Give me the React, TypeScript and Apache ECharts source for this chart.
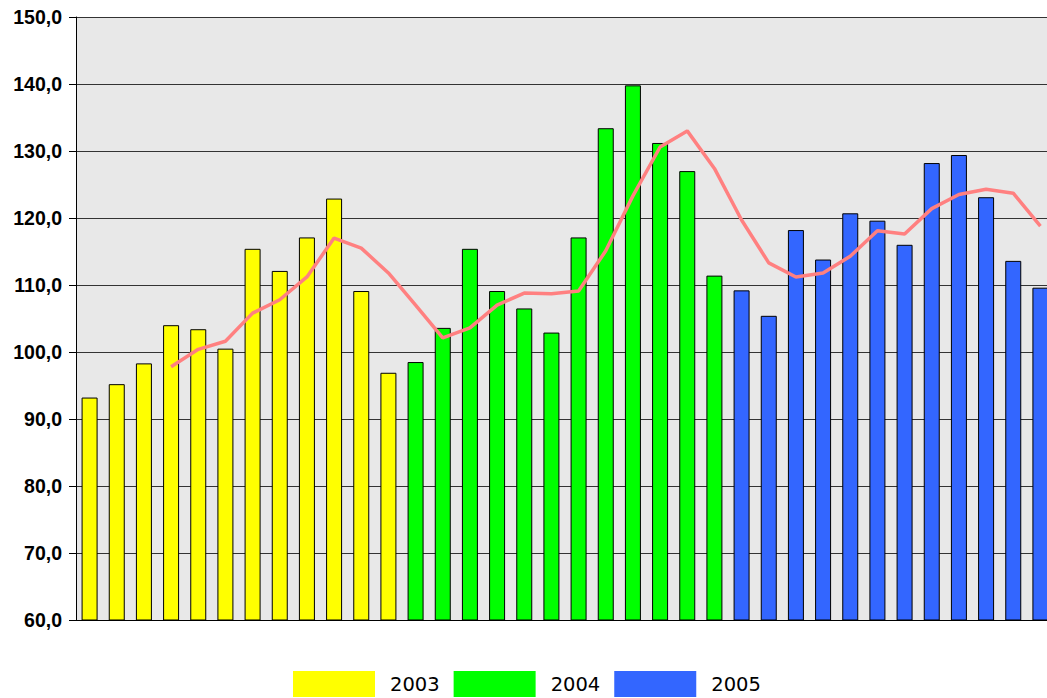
import React, { useEffect, useRef } from "react";
import * as echarts from "echarts";

const months: string[] = Array.from({ length: 36 }, (_, i) => String(i + 1));
const years = ["2003", "2004", "2005"];
const yearColors = ["#FFFF00", "#00FF00", "#3366FF"];

const values2003 = [93.2, 95.2, 98.3, 104.0, 103.4, 100.5, 115.4, 112.1, 117.1, 122.9, 109.1, 96.9];
const values2004 = [98.5, 103.6, 115.4, 109.1, 106.5, 102.9, 117.1, 133.4, 139.8, 131.2, 127.0, 111.4];
const values2005 = [109.2, 105.4, 118.2, 113.8, 120.7, 119.6, 116.0, 128.2, 129.4, 123.1, 113.6, 109.6];

const trendValues: (number | string)[] = [
  "-", "-", "-", 97.8, 100.4, 101.6, 105.8, 107.8, 111.2, 117.0, 115.5, 111.8,
  107.0, 102.1, 103.6, 107.0, 108.8, 108.7, 109.1, 115.1, 123.3, 130.6, 133.0, 127.4,
  119.7, 113.3, 111.2, 111.8, 114.3, 118.1, 117.6, 121.4, 123.5, 124.3, 123.7, 118.8,
];

const yTicks = { min: 60, max: 150, interval: 10 };

function placeYear(vals: number[], yearIndex: number): (number | string)[] {
  return months.map((_, i) => {
    const y = Math.floor(i / 12);
    return y === yearIndex ? vals[i % 12] : "-";
  });
}

export default function App() {
  const ref = useRef<HTMLDivElement>(null);
  useEffect(() => {
    if (!ref.current) return;
    const chart = echarts.init(ref.current, undefined, { renderer: "svg" });
    const allYears = [values2003, values2004, values2005];
    chart.setOption({
      animation: false,
      backgroundColor: "#FFFFFF",
      legend: {
        data: years,
        left: 293,
        top: 671,
        padding: 0,
        itemWidth: 82,
        itemHeight: 26,
        itemGap: 14,
        icon: "rect",
        itemStyle: { borderWidth: 0 },
        textStyle: {
          fontFamily: "DejaVu Sans",
          fontSize: 19.5,
          color: "#000",
          padding: [0, 0, 0, 10],
        },
      },
      grid: {
        left: 76,
        top: 17,
        bottom: 78,
        width: 978,
        show: true,
        backgroundColor: "#E8E8E8",
        borderWidth: 0,
        containLabel: false,
      },
      xAxis: {
        type: "category",
        data: months,
        axisLine: { show: true, lineStyle: { color: "#000", width: 1 } },
        axisTick: { show: false },
        axisLabel: { show: false },
        splitLine: { show: false },
      },
      yAxis: {
        type: "value",
        min: yTicks.min,
        max: yTicks.max,
        interval: yTicks.interval,
        axisLine: { show: true, lineStyle: { color: "#000", width: 1 } },
        axisTick: { show: true, length: 7, lineStyle: { color: "#000" } },
        axisLabel: {
          margin: 14,
          fontFamily: "Liberation Sans",
          fontWeight: "bold",
          fontSize: 19.5,
          color: "#000",
          formatter: (v: number) => v.toFixed(1).replace(".", ","),
        },
        splitLine: { show: true, lineStyle: { color: "#333", width: 1 } },
      },
      series: [
        ...years.map((yr, k) => ({
          name: yr,
          type: "bar",
          data: placeYear(allYears[k], k),
          barWidth: 16,
          barGap: "-100%",
          itemStyle: { color: yearColors[k], borderColor: "#000", borderWidth: 1 },
        })),
        {
          name: "trend",
          type: "line",
          data: trendValues,
          symbol: "none",
          lineStyle: { color: "#FF8080", width: 3.5 },
          itemStyle: { color: "#FF8080" },
          z: 5,
        },
      ],
    });
    return () => chart.dispose();
  }, []);
  return (
    <div style={{ position: "fixed", left: 0, top: 0, width: 1047, height: 698, overflow: "hidden" }}>
      <div ref={ref} style={{ position: "absolute", left: 0, top: 0, width: 1060, height: 698 }} />
    </div>
  );
}
